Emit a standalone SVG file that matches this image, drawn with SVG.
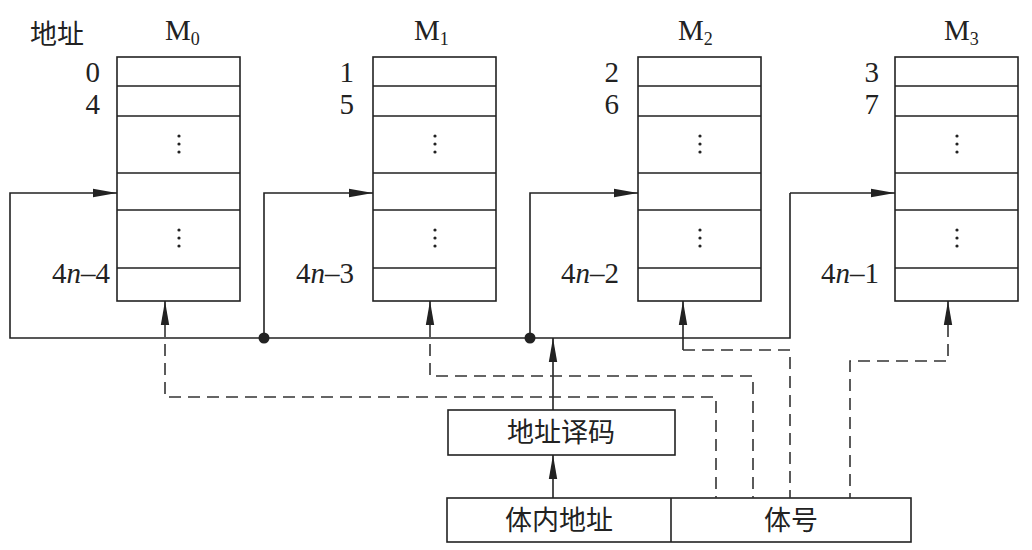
<svg xmlns="http://www.w3.org/2000/svg" width="1032" height="550" viewBox="0 0 1032 550">
<style>
.b{fill:#fff;stroke:#222;stroke-width:1.6}
.l{stroke:#222;stroke-width:1.6;fill:none}
.d{stroke:#333;stroke-width:1.6;fill:none;stroke-dasharray:12,7}
.t{font-family:"Liberation Serif",serif;font-size:29px;fill:#222}
.c{font-family:"Noto Sans CJK SC",sans-serif;font-size:27px;fill:#222}
.s{font-size:18px}
.dot{fill:#222}
</style>
<defs>
<marker id="h" viewBox="0 0 20 10" refX="20" refY="5" markerWidth="26" markerHeight="12" markerUnits="userSpaceOnUse" orient="auto"><path d="M0,1.5 L20,5 L0,8.5z" fill="#222"/></marker>
<g id="bank"><rect class="b" x="0" y="0" width="123" height="244"/>
<path class="l" d="M0,29H123M0,59H123M0,116H123M0,153H123M0,211H123"/>
<g class="dot"><circle cx="62" cy="79" r="1.6"/><circle cx="62" cy="87" r="1.6"/><circle cx="62" cy="95" r="1.6"/><circle cx="62" cy="173" r="1.6"/><circle cx="62" cy="181" r="1.6"/><circle cx="62" cy="189" r="1.6"/></g></g>
</defs>
<text class="c" x="30" y="44">地址</text>
<g id="M0"><use href="#bank" x="117" y="57"/><text class="t" x="165" y="40">M<tspan class="s" dy="5">0</tspan></text>
<g class="t" text-anchor="end"><text x="100" y="82">0</text><text x="100" y="114">4</text><text x="110" y="283">4<tspan font-style="italic">n</tspan>–4</text></g></g>
<g id="M1"><use href="#bank" x="373" y="57"/><text class="t" x="414" y="40">M<tspan class="s" dy="5">1</tspan></text>
<g class="t" text-anchor="end"><text x="354" y="82">1</text><text x="354" y="114">5</text><text x="354" y="283">4<tspan font-style="italic">n</tspan>–3</text></g></g>
<g id="M2"><use href="#bank" x="638" y="57"/><text class="t" x="678" y="40">M<tspan class="s" dy="5">2</tspan></text>
<g class="t" text-anchor="end"><text x="619" y="82">2</text><text x="619" y="114">6</text><text x="619" y="283">4<tspan font-style="italic">n</tspan>–2</text></g></g>
<g id="M3"><use href="#bank" x="895" y="57"/><text class="t" x="944" y="40">M<tspan class="s" dy="5">3</tspan></text>
<g class="t" text-anchor="end"><text x="879" y="82">3</text><text x="879" y="114">7</text><text x="879" y="283">4<tspan font-style="italic">n</tspan>–1</text></g></g>
<g id="decoder"><rect class="b" x="448" y="410" width="227" height="45"/><text class="c" x="561" y="442" text-anchor="middle">地址译码</text></g>
<g id="addr"><rect class="b" x="447" y="498" width="464" height="44"/><path class="l" d="M671,498V542"/>
<text class="c" x="559" y="530" text-anchor="middle">体内地址</text><text class="c" x="791" y="530" text-anchor="middle">体号</text></g>
<g id="connectors">
<path class="l" d="M790,193V338H10V193H117" marker-end="url(#h)"/>
<path class="l" d="M264,338V193H373" marker-end="url(#h)"/>
<path class="l" d="M530,338V193H638" marker-end="url(#h)"/>
<path class="l" d="M790,193H895" marker-end="url(#h)"/>
<circle class="dot" cx="264" cy="338" r="5.5"/><circle class="dot" cx="530" cy="338" r="5.5"/>
<path class="l" d="M553,410V338" marker-end="url(#h)"/>
<path class="l" d="M553,498V455" marker-end="url(#h)"/>
<path class="l" d="M165,325V301" marker-end="url(#h)"/>
<path class="l" d="M430,325V301" marker-end="url(#h)"/>
<path class="l" d="M683,350V301" marker-end="url(#h)"/>
<path class="l" d="M948,325V301" marker-end="url(#h)"/>
<path class="d" d="M165,325V397H716V498"/>
<path class="d" d="M430,325V376H753V498"/>
<path class="d" d="M683,350H790V498"/>
<path class="d" d="M948,325V361H850V498"/>
</g>
</svg>
